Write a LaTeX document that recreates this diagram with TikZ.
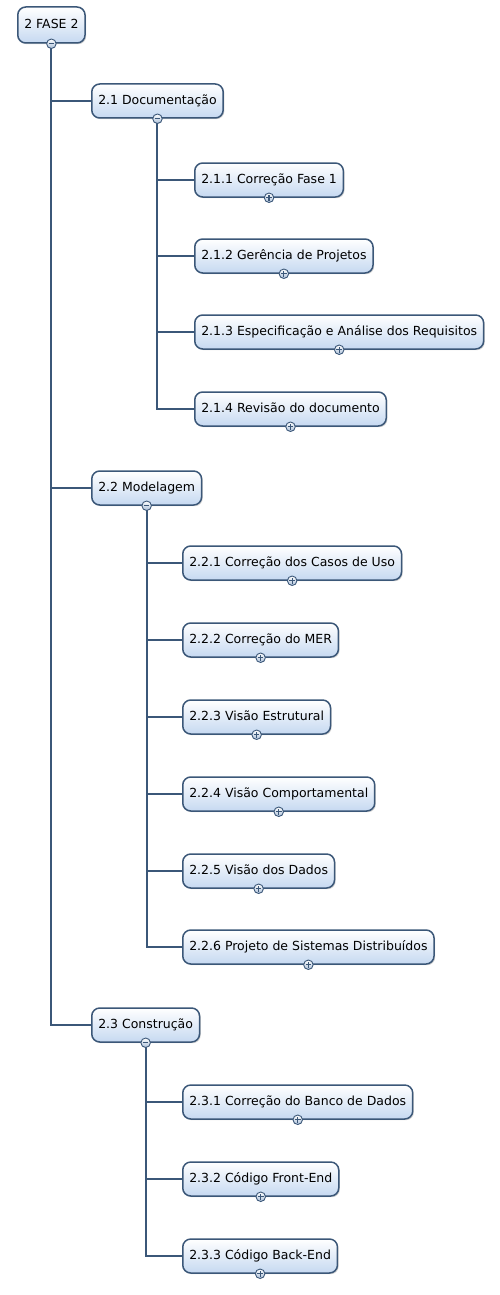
\documentclass[tikz,border=0pt]{standalone}
\usepackage{fontspec}
\setmainfont{DejaVu Sans}
\usetikzlibrary{shadows}
\definecolor{contorno}{HTML}{3B5778}
\definecolor{fundo}{HTML}{C6D9F1}

\tikzset{
	topico/.style={draw=contorno, line width=1.5pt, rounded corners=8pt, anchor=west,
		top color=white, bottom color=fundo, minimum height=34pt, inner xsep=6.5pt,
		text height=9pt, text depth=2.5pt, font=\fontsize{12.5}{14}\selectfont,
		drop shadow={shadow xshift=1.2pt, shadow yshift=-1.2pt, opacity=.35}},
	ligacao/.style={draw=contorno, line width=2pt},
	botao/.style={circle, draw=contorno, line width=.9pt, top color=white, bottom color=fundo!80!contorno,
		minimum size=9.5pt, inner sep=0pt},
	menos/.style={botao, path picture={
		\draw[contorno, line width=1.2pt] ([xshift=-2.8pt]path picture bounding box.center) -- ([xshift=2.8pt]path picture bounding box.center);}},
	mais/.style={botao, path picture={
		\draw[contorno, line width=1.2pt] ([xshift=-2.8pt]path picture bounding box.center) -- ([xshift=2.8pt]path picture bounding box.center)
			([yshift=-2.8pt]path picture bounding box.center) -- ([yshift=2.8pt]path picture bounding box.center);}}
}

\begin{document}
\begin{tikzpicture}[x=1pt,y=-1pt]
	\useasboundingbox (0,0) rectangle (499,1295);

	\node[topico, minimum height=36pt] (fase) at (17,25) {2 FASE 2};
	\node[topico] (doc) at (91,101) {2.1 Documentação};
	\node[topico] (mod) at (91,488) {2.2 Modelagem};
	\node[topico] (cons) at (91,1025) {2.3 Construção};

	\foreach \n/\y/\t in {doc1/180/2.1.1 Correção Fase 1, doc2/256/2.1.2 Gerência de Projetos,
			doc3/332/2.1.3 Especificação e Análise dos Requisitos, doc4/409/2.1.4 Revisão do documento}
		\node[topico] (\n) at (194,\y) {\t};
	\foreach \n/\y/\t in {mod1/563/2.2.1 Correção dos Casos de Uso, mod2/640/2.2.2 Correção do MER,
			mod3/717/2.2.3 Visão Estrutural, mod4/794/2.2.4 Visão Comportamental,
			mod5/871/2.2.5 Visão dos Dados, mod6/947/2.2.6 Projeto de Sistemas Distribuídos}
		\node[topico] (\n) at (182,\y) {\t};
	\foreach \n/\y/\t in {cons1/1102/2.3.1 Correção do Banco de Dados, cons2/1179/2.3.2 Código Front-End,
			cons3/1256/2.3.3 Código Back-End}
		\node[topico] (\n) at (182,\y) {\t};

	% ligacoes
	\foreach \n in {doc,mod,cons}
		\draw[ligacao] (fase.south) |- (\n.west);
	\foreach \n in {doc1,doc2,doc3,doc4}
		\draw[ligacao] (doc.south) |- (\n.west);
	\foreach \n in {mod1,mod2,mod3,mod4,mod5,mod6}
		\draw[ligacao] (mod.south) |- (\n.west);
	\foreach \n in {cons1,cons2,cons3}
		\draw[ligacao] (cons.south) |- (\n.west);

	% botoes
	\foreach \n in {fase,doc,mod,cons}
		\node[menos] (\n-b) at (\n.south) {};
	\foreach \n in {doc1,doc2,doc3,doc4,mod1,mod2,mod3,mod4,mod5,mod6,cons1,cons2,cons3}
		\node[mais] (\n-b) at (\n.south) {};
\end{tikzpicture}
\end{document}
